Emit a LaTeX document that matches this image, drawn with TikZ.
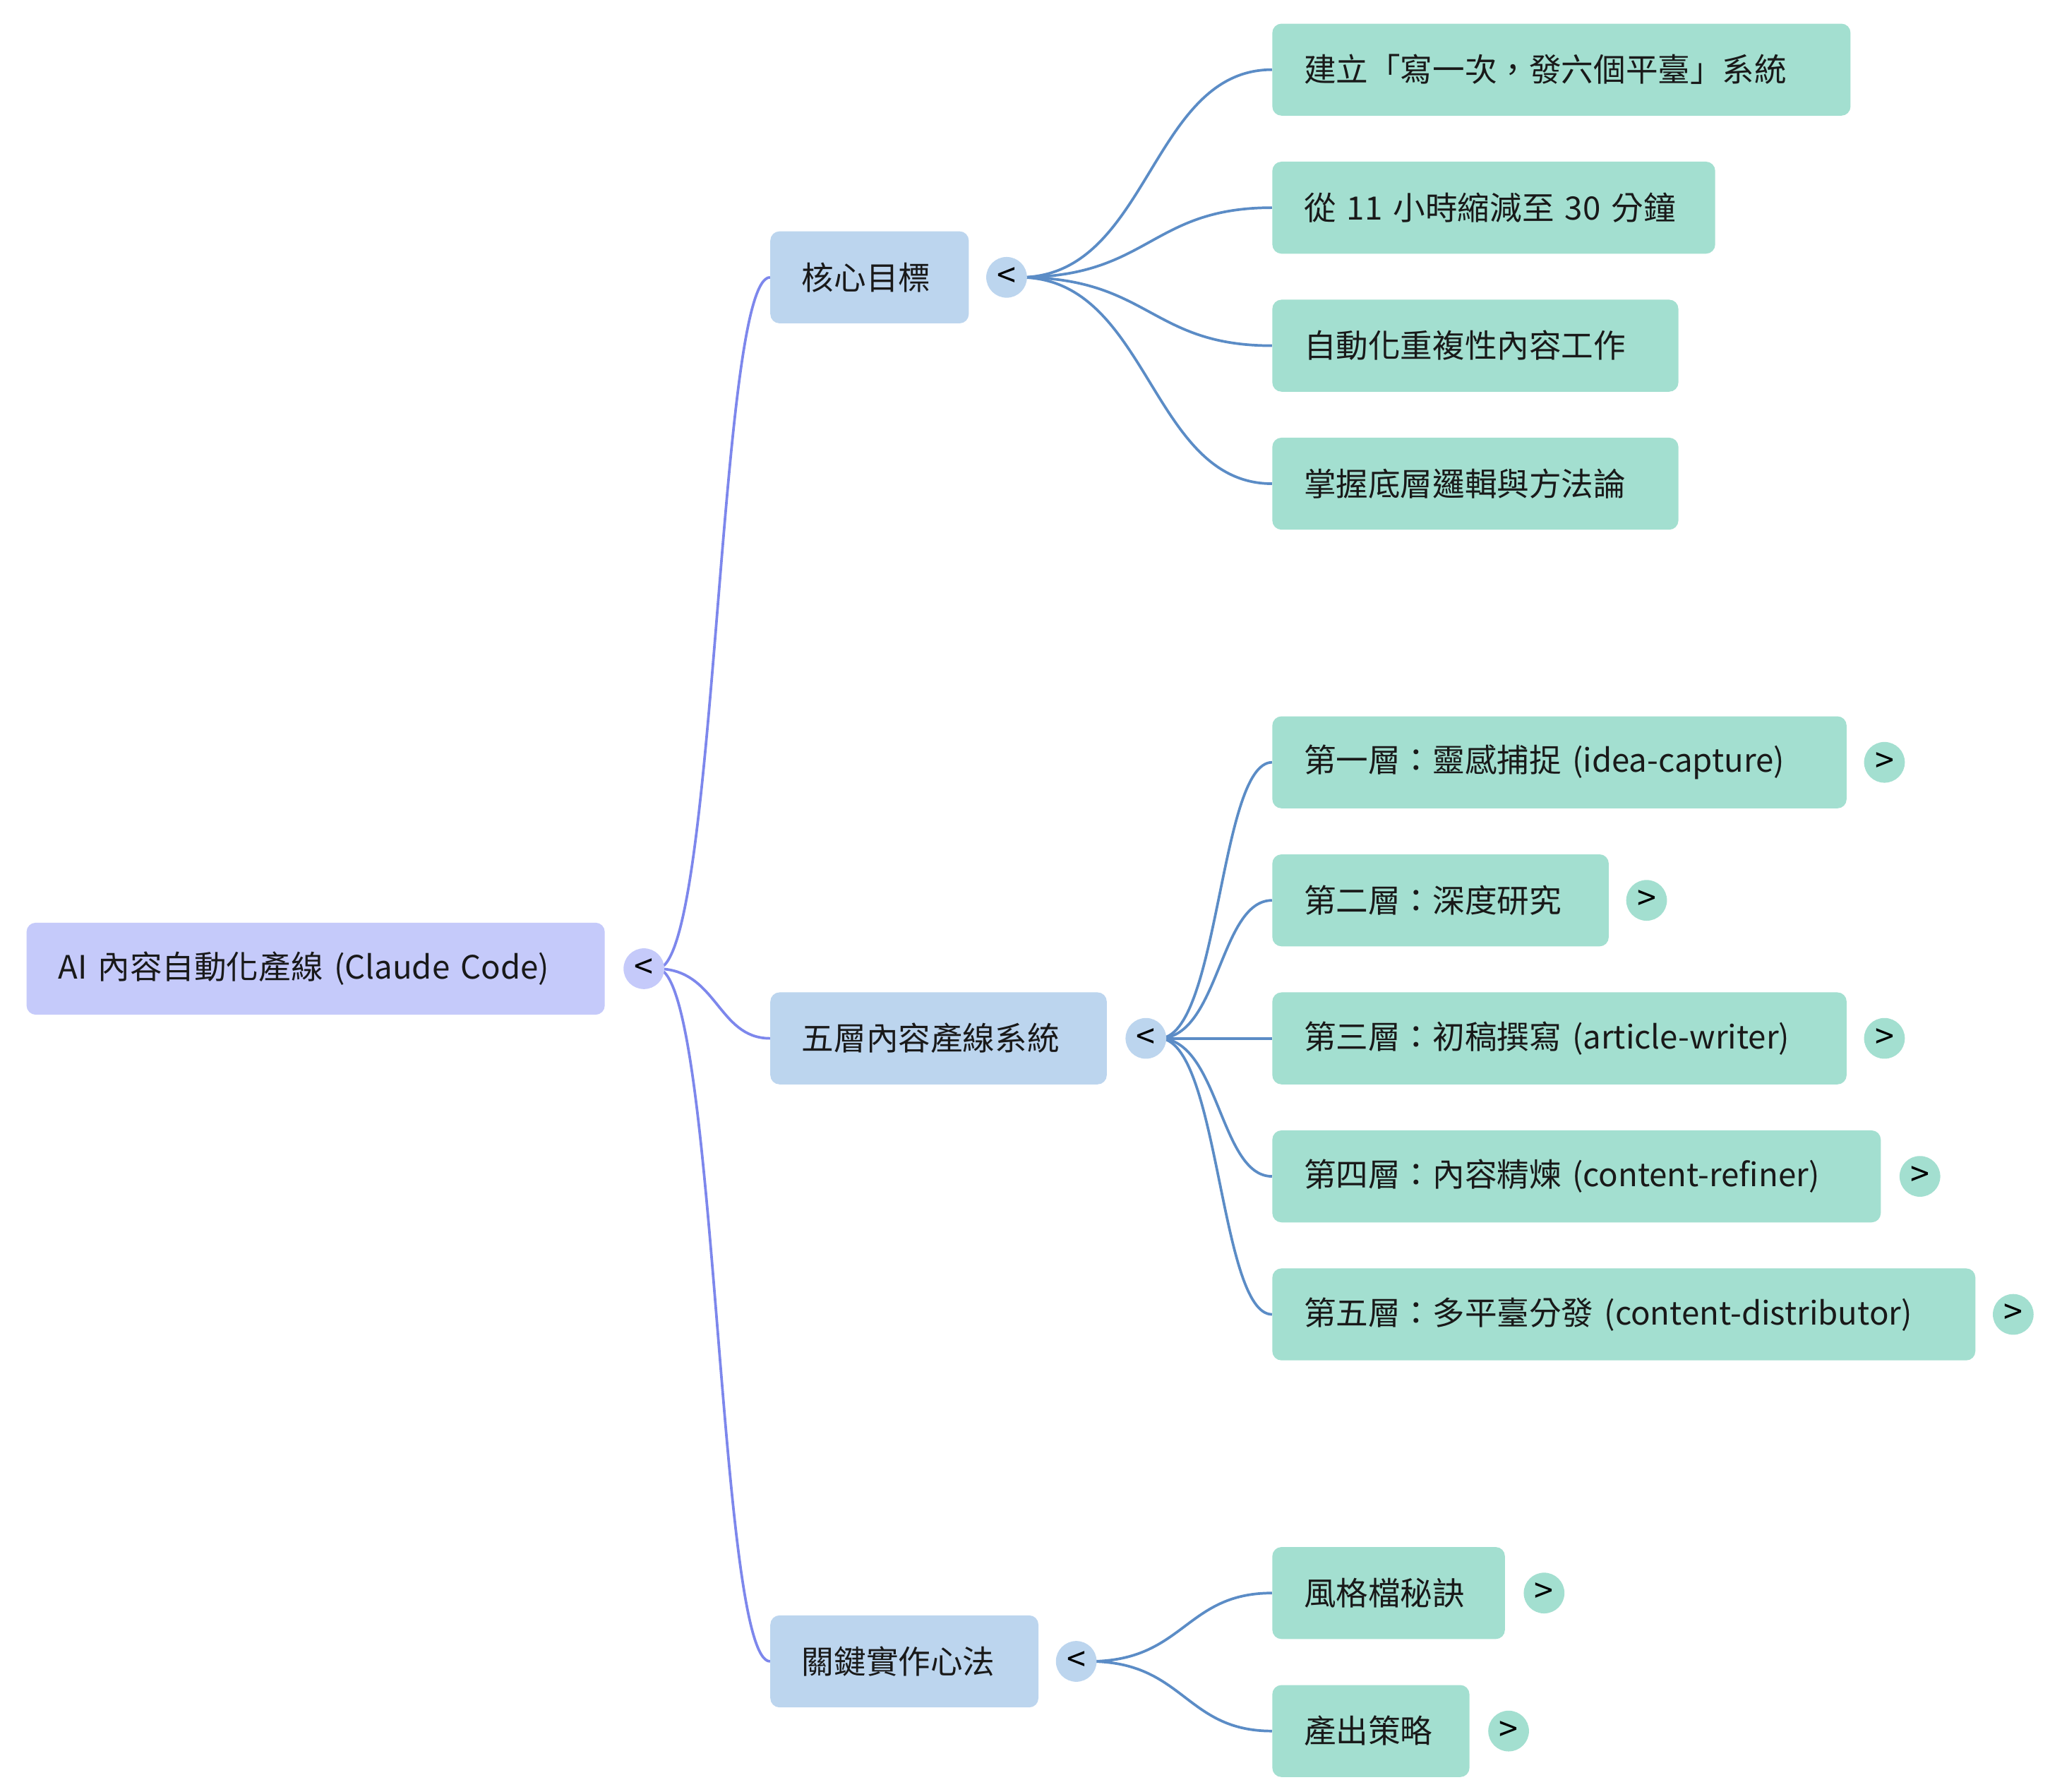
\documentclass[tikz,border=0pt]{standalone}
\usepackage{fontspec}
\usetikzlibrary{calc,backgrounds}
\setmainfont{Noto Sans CJK TC}
\begin{document}
\begin{tikzpicture}[x=1pt,y=-1pt,
  base/.style={rectangle,rounded corners=7pt,minimum height=70pt,inner xsep=24pt,inner ysep=0pt,anchor=west,align=left,font=\fontsize{24.5}{28}\selectfont,text=black!90},
  root/.style={base,fill=rootc},
  lone/.style={base,fill=lonec},
  ltwo/.style={base,fill=ltwoc},
  dot/.style={circle,minimum size=31pt,inner sep=0pt,font=\fontsize{26}{28}\selectfont,text=black},
  e1/.style={draw=edgea,line width=2pt},
  e2/.style={draw=edgeb,line width=2pt}]
\definecolor{rootc}{HTML}{C5CAFA}
\definecolor{lonec}{HTML}{BCD5EE}
\definecolor{ltwoc}{HTML}{A3DFD0}
\definecolor{edgea}{HTML}{7D87EC}
\definecolor{edgeb}{HTML}{5B8CC6}
\useasboundingbox (0,0) rectangle (1560,1363);
% root
\node[root,text width=392pt] (r) at (20,737) {AI 內容自動化產線 (Claude Code)};
\node[dot,fill=rootc] (rc) at (490,737) {<};
% level 1
\node[lone,text width=103pt] (a) at (586,211) {核心目標};
\node[dot,fill=lonec] (ac) at (766,211) {<};
\node[lone,text width=208pt] (b) at (586,790) {五層內容產線系統};
\node[dot,fill=lonec] (bc) at (872,790) {<};
\node[lone,text width=156pt] (c) at (586,1264) {關鍵實作心法};
\node[dot,fill=lonec] (cc) at (819,1264) {<};
% level 2
\node[ltwo,text width=392pt] (a1) at (968,53) {建立「寫一次，發六個平臺」系統};
\node[ltwo,text width=289pt] (a2) at (968,158) {從 11 小時縮減至 30 分鐘};
\node[ltwo,text width=261pt] (a3) at (968,263) {自動化重複性內容工作};
\node[ltwo,text width=261pt] (a4) at (968,368) {掌握底層邏輯與方法論};
\node[ltwo,text width=389pt] (b1) at (968,580) {第一層：靈感捕捉 (idea-capture)};
\node[dot,fill=ltwoc] (b1c) at (1434,580) {>};
\node[ltwo,text width=208pt] (b2) at (968,685) {第二層：深度研究};
\node[dot,fill=ltwoc] (b2c) at (1253,685) {>};
\node[ltwo,text width=389pt] (b3) at (968,790) {第三層：初稿撰寫 (article-writer)};
\node[dot,fill=ltwoc] (b3c) at (1434,790) {>};
\node[ltwo,text width=415pt] (b4) at (968,895) {第四層：內容精煉 (content-refiner)};
\node[dot,fill=ltwoc] (b4c) at (1461,895) {>};
\node[ltwo,text width=487pt] (b5) at (968,1000) {第五層：多平臺分發 (content-distributor)};
\node[dot,fill=ltwoc] (b5c) at (1532,1000) {>};
\node[ltwo,text width=129pt] (c1) at (968,1212) {風格檔秘訣};
\node[dot,fill=ltwoc] (c1c) at (1175,1212) {>};
\node[ltwo,text width=102pt] (c2) at (968,1317) {產出策略};
\node[dot,fill=ltwoc] (c2c) at (1148,1317) {>};
\begin{pgfonlayer}{background}
\foreach \t in {a,b,c}{
  \draw[e1] ($(rc.center)+(10,0)$) .. controls ($(rc.east)!0.5!(rc.east -| \t.west)$) and ($(\t.west)!0.5!(rc.east |- \t.west)$) .. (\t.west);
}
\foreach \s/\t in {ac/a1,ac/a2,ac/a3,ac/a4,bc/b1,bc/b2,bc/b3,bc/b4,bc/b5,cc/c1,cc/c2}{
  \draw[e2] ($(\s.center)+(10,0)$) .. controls ($(\s.east)!0.5!(\s.east -| \t.west)$) and ($(\t.west)!0.5!(\s.east |- \t.west)$) .. (\t.west);
}
\end{pgfonlayer}
\end{tikzpicture}
\end{document}
